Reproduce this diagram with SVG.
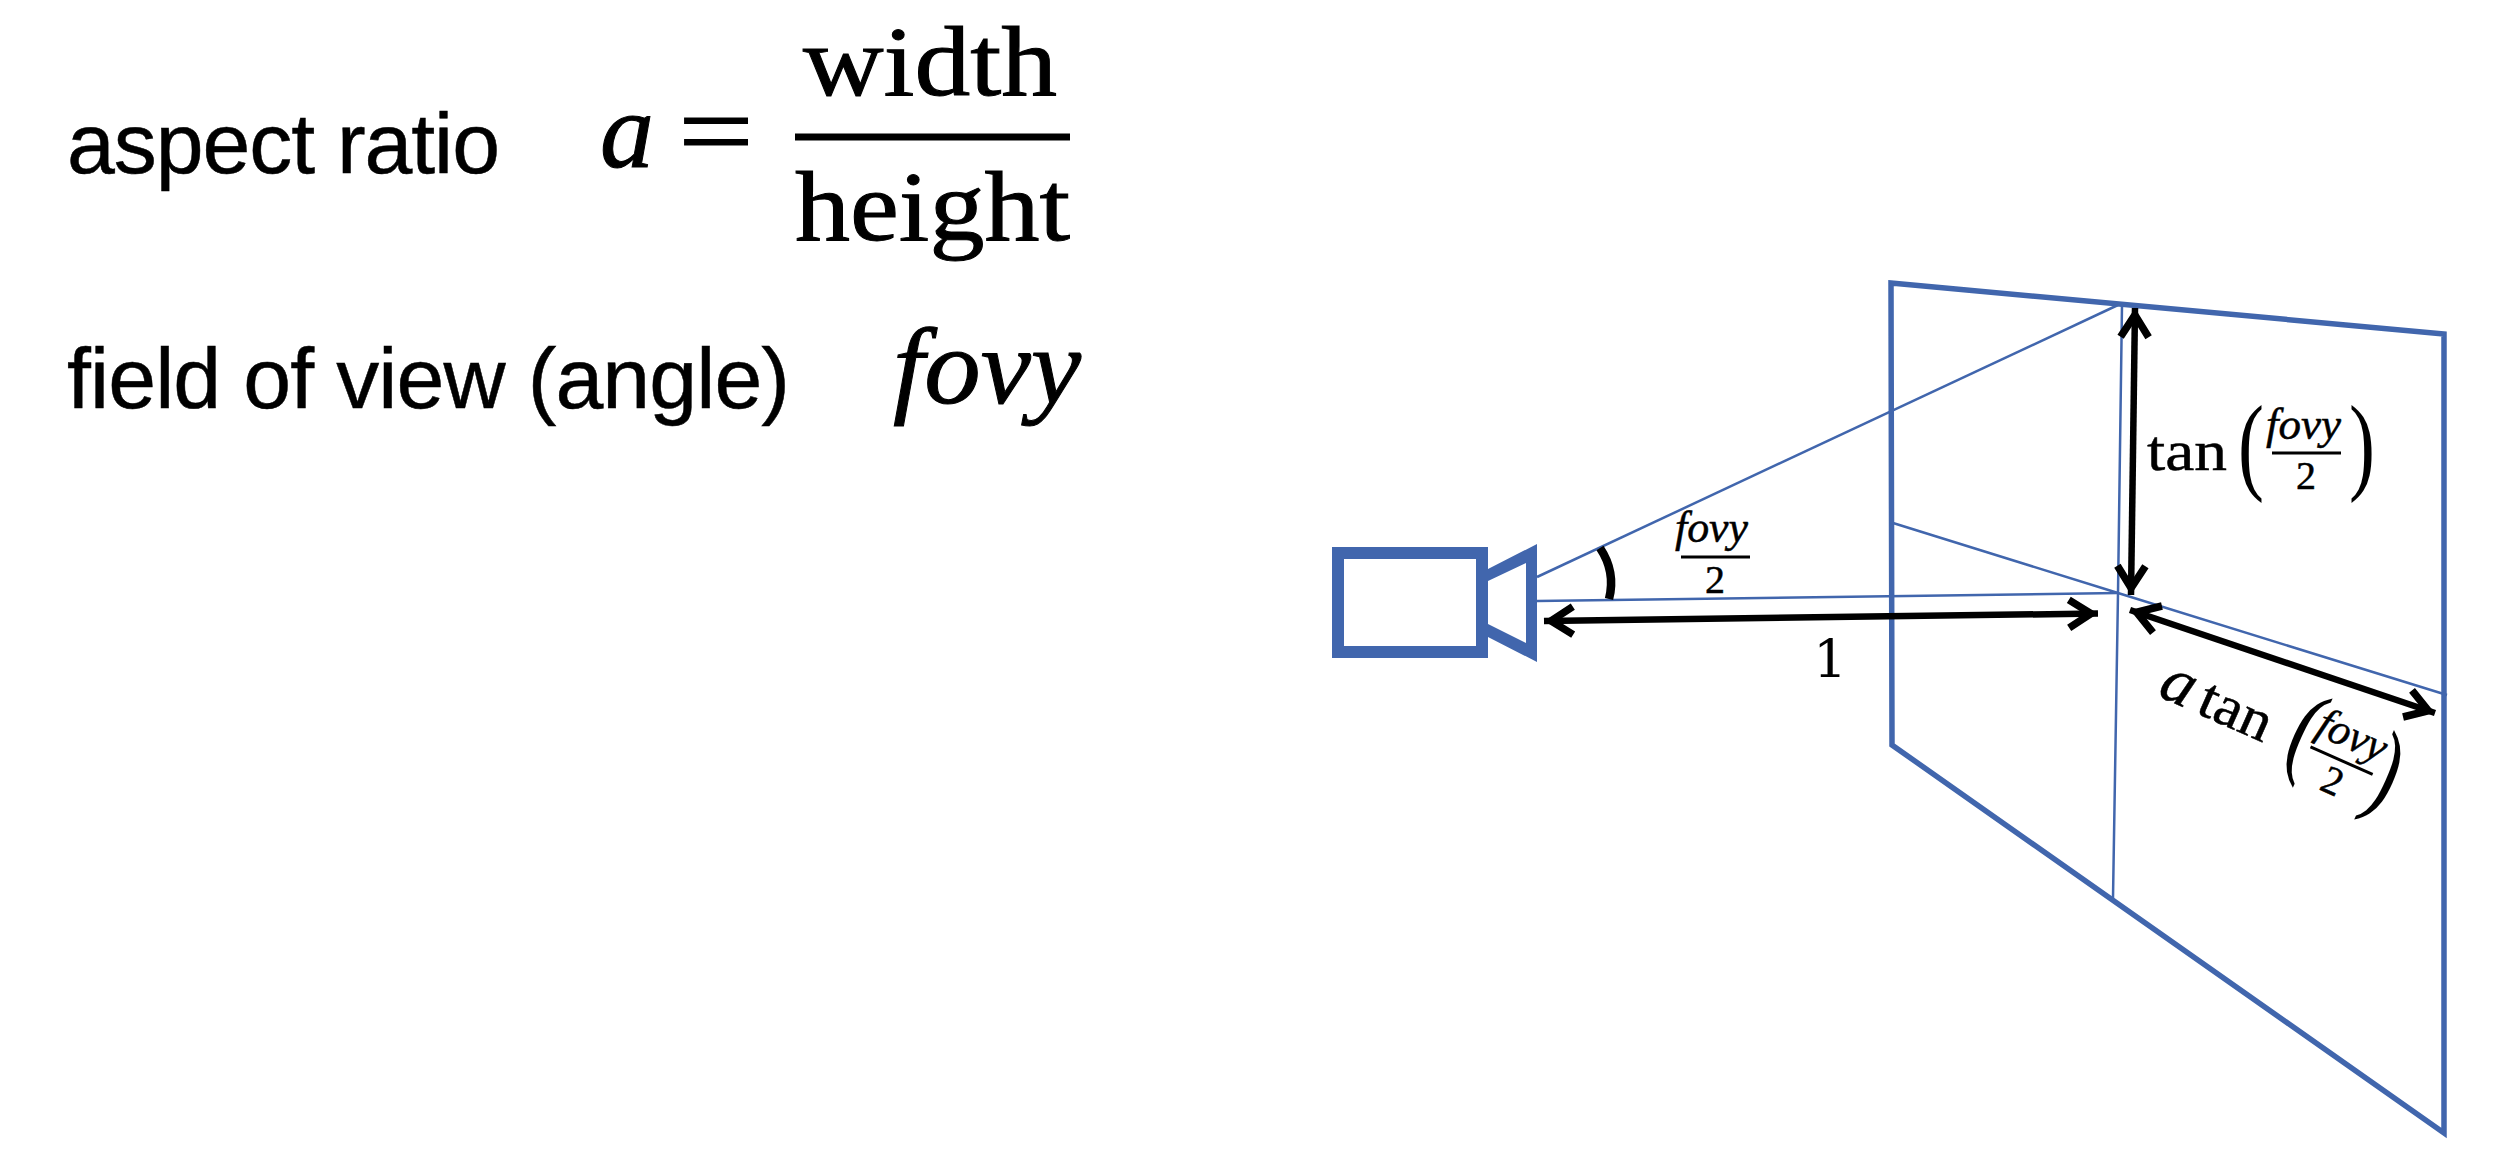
<svg xmlns="http://www.w3.org/2000/svg" width="2502" height="1176" viewBox="0 0 2502 1176">
<style>
.sans{font-family:"Liberation Sans",Arial,sans-serif;font-size:86px;fill:#000;stroke:#000;stroke-width:.5}
.m{font-family:"Liberation Serif","Times New Roman",serif;fill:#000;stroke:#000;stroke-width:.5}
.big{stroke-width:1}
.i{font-style:italic}
.thick{fill:none;stroke:#4166AD;stroke-width:5.5}
.thin{fill:none;stroke:#4166AD;stroke-width:2.5}
.arrow{fill:none;stroke:#000;stroke-width:6.5;marker-start:url(#chev);marker-end:url(#chev)}
.bar{stroke:#000;fill:none}
.s{font-size:44px}
.two{font-size:40px;text-anchor:middle}
.par{font-size:108px;text-anchor:middle;stroke-width:0}
</style>
<defs>
<marker id="chev" markerUnits="userSpaceOnUse" markerWidth="50" markerHeight="50" refX="37" refY="20" orient="auto-start-reverse" overflow="visible">
<path d="M8,6 L30,20 L8,34" fill="none" stroke="#000" stroke-width="7.5"/>
</marker>
</defs>
<rect width="2502" height="1176" fill="#fff"/>
<g id="aspect-ratio">
<text class="sans" x="67" y="173" textLength="433">aspect ratio</text>
<text class="m i big" x="600" y="167" font-size="108">a</text>
<text class="m big" x="678" y="167" font-size="108" textLength="76" lengthAdjust="spacingAndGlyphs">=</text>
<text class="m big" x="803" y="95" font-size="100" textLength="254" lengthAdjust="spacingAndGlyphs">width</text>
<line class="bar" x1="795" y1="137" x2="1070" y2="137" stroke-width="7"/>
<text class="m big" x="795" y="240" font-size="100" textLength="275" lengthAdjust="spacingAndGlyphs">height</text>
</g>
<g id="field-of-view">
<text class="sans" x="67" y="408" textLength="723">field of view (angle)</text>
<text class="m i big" x="893" y="403" font-size="108" textLength="188" lengthAdjust="spacingAndGlyphs">fovy</text>
</g>
<g id="camera">
<rect x="1338" y="553" width="144" height="99" fill="#fff" stroke="#4166AD" stroke-width="12"/>
<path fill="#4166AD" fill-rule="evenodd" d="M1488,569 L1537,544 L1537,662 L1488,637 Z M1488,581 L1488,624 L1526,643 L1526,563 Z"/>
</g>
<g id="image-plane">
<path class="thick" d="M1891,283 L2444,334 L2444,1133 L1892,745 Z"/>
</g>
<g id="connectors">
<path class="thin" d="M1537,577 L2118,305"/>
<path class="thin" d="M1537,601 L2118,593"/>
<path class="thin" d="M1893,523 L2118,593 L2447,695"/>
<path class="thin" d="M2122,305 L2118,593 L2113,898"/>
<path d="M1600,548 Q1616,572 1609,599" fill="none" stroke="#000" stroke-width="8.5"/>
<line class="arrow" x1="1544" y1="621" x2="2098" y2="613.5"/>
<line class="arrow" x1="2135" y1="308" x2="2131" y2="595"/>
<line class="arrow" x1="2130" y1="610" x2="2435" y2="713"/>
</g>
<g id="label-half-fovy">
<text class="m i s" x="1675" y="542" textLength="73" lengthAdjust="spacingAndGlyphs">fovy</text>
<line class="bar" x1="1681" y1="557" x2="1750" y2="557" stroke-width="3"/>
<text class="m two" x="1715" y="593">2</text>
</g>
<g id="label-one">
<text x="1830" y="677" font-family="'DejaVu Serif',serif" font-size="53" text-anchor="middle" fill="#000">1</text>
</g>
<g id="label-tan">
<text class="m" x="2147" y="470" font-size="58" textLength="80" lengthAdjust="spacingAndGlyphs">tan</text>
<text class="m par" x="2251" y="480" textLength="26" lengthAdjust="spacingAndGlyphs">(</text>
<text class="m par" x="2362" y="480" textLength="26" lengthAdjust="spacingAndGlyphs">)</text>
<text class="m i s" x="2266" y="439" textLength="75" lengthAdjust="spacingAndGlyphs">fovy</text>
<line class="bar" x1="2272" y1="453" x2="2341" y2="453" stroke-width="3"/>
<text class="m two" x="2306" y="489">2</text>
</g>
<g id="label-a-tan" transform="translate(2158,696) rotate(24)">
<text class="m i" x="-2" y="0" font-size="66">a</text>
<text class="m" x="40" y="0" font-size="58" textLength="75" lengthAdjust="spacingAndGlyphs">tan</text>
<text class="m par" x="150" y="6" textLength="26" lengthAdjust="spacingAndGlyphs">(</text>
<text class="m par" x="240" y="10" textLength="26" lengthAdjust="spacingAndGlyphs">)</text>
<text class="m i s" x="158" y="-29" textLength="72" lengthAdjust="spacingAndGlyphs">fovy</text>
<line class="bar" x1="160" y1="-15.6" x2="228" y2="-15.6" stroke-width="3"/>
<text class="m two" x="194" y="20">2</text>
</g>
</svg>
